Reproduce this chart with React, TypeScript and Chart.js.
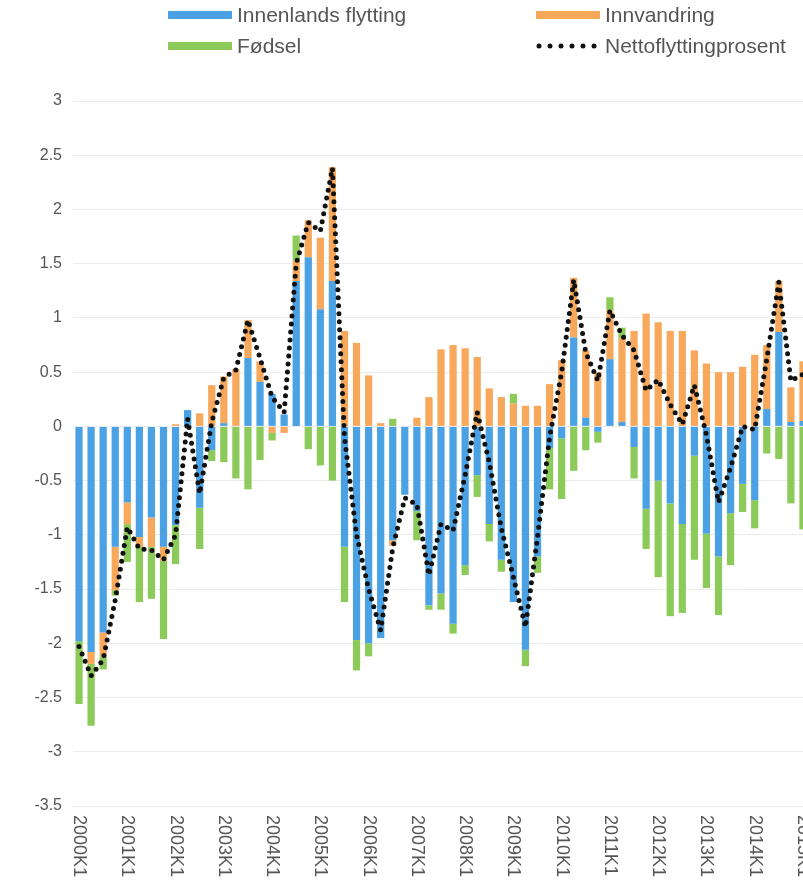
import React, { useEffect, useRef } from "react";
import { Chart, registerables } from "chart.js";

Chart.register(...registerables);

const categories: string[] = [
  "2000K1", "2000K2", "2000K3", "2000K4",
  "2001K1", "2001K2", "2001K3", "2001K4",
  "2002K1", "2002K2", "2002K3", "2002K4",
  "2003K1", "2003K2", "2003K3", "2003K4",
  "2004K1", "2004K2", "2004K3", "2004K4",
  "2005K1", "2005K2", "2005K3", "2005K4",
  "2006K1", "2006K2", "2006K3", "2006K4",
  "2007K1", "2007K2", "2007K3", "2007K4",
  "2008K1", "2008K2", "2008K3", "2008K4",
  "2009K1", "2009K2", "2009K3", "2009K4",
  "2010K1", "2010K2", "2010K3", "2010K4",
  "2011K1", "2011K2", "2011K3", "2011K4",
  "2012K1", "2012K2", "2012K3", "2012K4",
  "2013K1", "2013K2", "2013K3", "2013K4",
  "2014K1", "2014K2", "2014K3", "2014K4",
  "2015K1",
];

const innenlandsFlytting: number[] = [
  -1.98, -2.08, -1.9, -1.11,
  -0.7, -1.02, -0.84, -1.11,
  -0.91, 0.15, -0.75, -0.22,
  0.03, 0, 0.63, 0.41,
  0.3, 0.11, 1.34, 1.56,
  1.08, 1.34, -1.11, -1.97,
  -2.0, -1.95, -1.05, -0.63,
  -0.78, -1.65, -1.54, -1.82,
  -1.28, -0.45, -0.9, -1.23,
  -1.62, -2.06, -1.2, -0.2,
  -0.11, 0.82, 0.08, -0.05,
  0.62, 0.04, -0.19, -0.76,
  -0.5, -0.71, -0.9, -0.27,
  -0.99, -1.2, -0.8, -0.53,
  -0.68, 0.16, 0.87, 0.04,
  0.05,
];

const innvandring: number[] = [
  0, -0.11, -0.22, -0.4,
  -0.2, -0.09, -0.27, -0.13,
  0.02, 0, 0.12, 0.38,
  0.43, 0.53, 0.35, 0.19,
  -0.06, -0.06, 0.19, 0.34,
  0.66, 1.05, 0.88, 0.77,
  0.47, 0.03, -0.05, 0,
  0.08, 0.27, 0.71, 0.75,
  0.72, 0.64, 0.35, 0.27,
  0.21, 0.19, 0.19, 0.39,
  0.61, 0.55, 0.62, 0.5,
  0.45, 0.77, 0.88, 1.04,
  0.96, 0.88, 0.88, 0.7,
  0.58, 0.5, 0.5, 0.55,
  0.66, 0.59, 0.47, 0.32,
  0.55,
];

const fodsel: number[] = [
  -0.58, -0.57, -0.12, -0.05,
  -0.35, -0.51, -0.48, -0.72,
  -0.36, 0, -0.38, -0.1,
  -0.33, -0.48, -0.58, -0.31,
  -0.07, 0, 0.23, -0.21,
  -0.36, -0.5, -0.51, -0.28,
  -0.12, 0, 0.07, 0,
  -0.27, -0.04, -0.15, -0.09,
  -0.09, -0.2, -0.16, -0.11,
  0.09, -0.15, -0.15, -0.38,
  -0.56, -0.41, -0.22, -0.1,
  0.12, 0.1, -0.29, -0.37,
  -0.89, -1.04, -0.82, -0.96,
  -0.5, -0.54, -0.48, -0.26,
  -0.26, -0.25, -0.3, -0.71,
  -0.95,
];

const nettoflyttingprosent: number[] = [
  -2.03, -2.3, -2.15, -1.6,
  -0.93, -1.13, -1.14, -1.23,
  -1.0, 0.07, -0.62, 0.04,
  0.45, 0.52, 0.98, 0.63,
  0.27, 0.13, 1.5, 1.88,
  1.8, 2.38, -0.1, -1.0,
  -1.5, -1.88, -1.12, -0.66,
  -0.72, -1.37, -0.9, -0.96,
  -0.45, 0.13, -0.33, -0.94,
  -1.39, -1.85, -1.02, -0.1,
  0.5, 1.35, 0.68, 0.42,
  1.07, 0.84, 0.7, 0.33,
  0.43, 0.2, 0.02, 0.38,
  -0.08, -0.7, -0.38, 0.0,
  -0.03, 0.62, 1.33, 0.42,
  0.48,
];

const seriesNames = ["Innenlands flytting", "Innvandring", "Fødsel", "Nettoflyttingprosent"];
const seriesColors = ["#4AA2E4", "#F7A85A", "#8CCB5A", "#111111"];

const yMin = -3.5;
const yMax = 3;
const yStep = 0.5;

const FONT = '"Liberation Sans", Arial, sans-serif';
const TEXT_COLOR = "#555555";

const legendPlugin = {
  id: "customLegend",
  afterDraw(chart: any) {
    const ctx = chart.ctx as CanvasRenderingContext2D;
    ctx.save();
    ctx.font = `21px ${FONT}`;
    ctx.textBaseline = "middle";
    ctx.textAlign = "left";
    const items = [
      { i: 0, x: 168, y: 15 },
      { i: 1, x: 536, y: 15 },
      { i: 2, x: 168, y: 46 },
      { i: 3, x: 536, y: 46 },
    ];
    items.forEach(({ i, x, y }) => {
      if (i === 3) {
        ctx.fillStyle = seriesColors[3];
        for (let k = 0; k < 6; k++) {
          ctx.beginPath();
          ctx.arc(x + 3 + k * 11, y, 2.5, 0, Math.PI * 2);
          ctx.fill();
        }
      } else {
        ctx.fillStyle = seriesColors[i];
        ctx.fillRect(x, y - 4, 64, 8);
      }
      ctx.fillStyle = TEXT_COLOR;
      ctx.fillText(seriesNames[i], x + 69, y + 1);
    });
    ctx.restore();
  },
};

const xLabelPlugin = {
  id: "rotatedXLabels",
  afterDraw(chart: any) {
    const ctx = chart.ctx as CanvasRenderingContext2D;
    const xs = chart.scales.x;
    const top = chart.chartArea.bottom + 9;
    ctx.save();
    ctx.font = `18px ${FONT}`;
    ctx.fillStyle = TEXT_COLOR;
    ctx.textAlign = "left";
    ctx.textBaseline = "middle";
    categories.forEach((label, i) => {
      if (!label.endsWith("K1")) return;
      const px = xs.getPixelForValue(i);
      ctx.save();
      ctx.translate(px, top);
      ctx.rotate(Math.PI / 2);
      ctx.fillText(label, 0, 0);
      ctx.restore();
    });
    ctx.restore();
  },
};

export default function App() {
  const ref = useRef<HTMLCanvasElement | null>(null);

  useEffect(() => {
    if (!ref.current) return;
    const barCommon = {
      type: "bar" as const,
      barPercentage: 0.6,
      categoryPercentage: 1.0,
      borderWidth: 0,
      stack: "bars",
    };
    const chart = new Chart(ref.current, {
      type: "bar",
      data: {
        labels: categories,
        datasets: [
          {
            type: "line",
            label: seriesNames[3],
            data: nettoflyttingprosent,
            borderColor: seriesColors[3],
            borderWidth: 5,
            borderDash: [0, 8],
            borderCapStyle: "round",
            pointRadius: 0,
            tension: 0,
            fill: false,
            stack: "line",
          } as any,
          { ...barCommon, label: seriesNames[0], data: innenlandsFlytting, backgroundColor: seriesColors[0] },
          { ...barCommon, label: seriesNames[1], data: innvandring, backgroundColor: seriesColors[1] },
          { ...barCommon, label: seriesNames[2], data: fodsel, backgroundColor: seriesColors[2] },
        ],
      },
      options: {
        animation: false,
        responsive: false,
        maintainAspectRatio: false,
        layout: { padding: { top: 101, right: 3, left: 0, bottom: 0 } },
        plugins: {
          legend: { display: false },
          tooltip: { enabled: false },
        },
        scales: {
          x: {
            stacked: true,
            grid: { display: false },
            border: { display: false },
            ticks: { display: false },
            afterFit: (s: any) => {
              s.height = 80;
            },
          },
          y: {
            stacked: true,
            min: yMin,
            max: yMax,
            grid: { color: "#ebebeb", drawTicks: false, lineWidth: 1 },
            border: { display: false },
            ticks: {
              stepSize: yStep,
              padding: 11,
              color: TEXT_COLOR,
              font: { family: FONT, size: 16 },
              callback: (v: any) => String(Math.round(Number(v) * 10) / 10),
            },
            afterFit: (s: any) => {
              s.width = 73;
            },
          },
        },
      } as any,
      plugins: [legendPlugin, xLabelPlugin],
    });
    return () => chart.destroy();
  }, []);

  return (
    <div
      style={{
        position: "absolute",
        left: 0,
        top: 0,
        width: 803,
        height: 886,
        overflow: "hidden",
        background: "#ffffff",
      }}
    >
      <canvas ref={ref} width={812} height={886} style={{ display: "block" }} />
    </div>
  );
}
